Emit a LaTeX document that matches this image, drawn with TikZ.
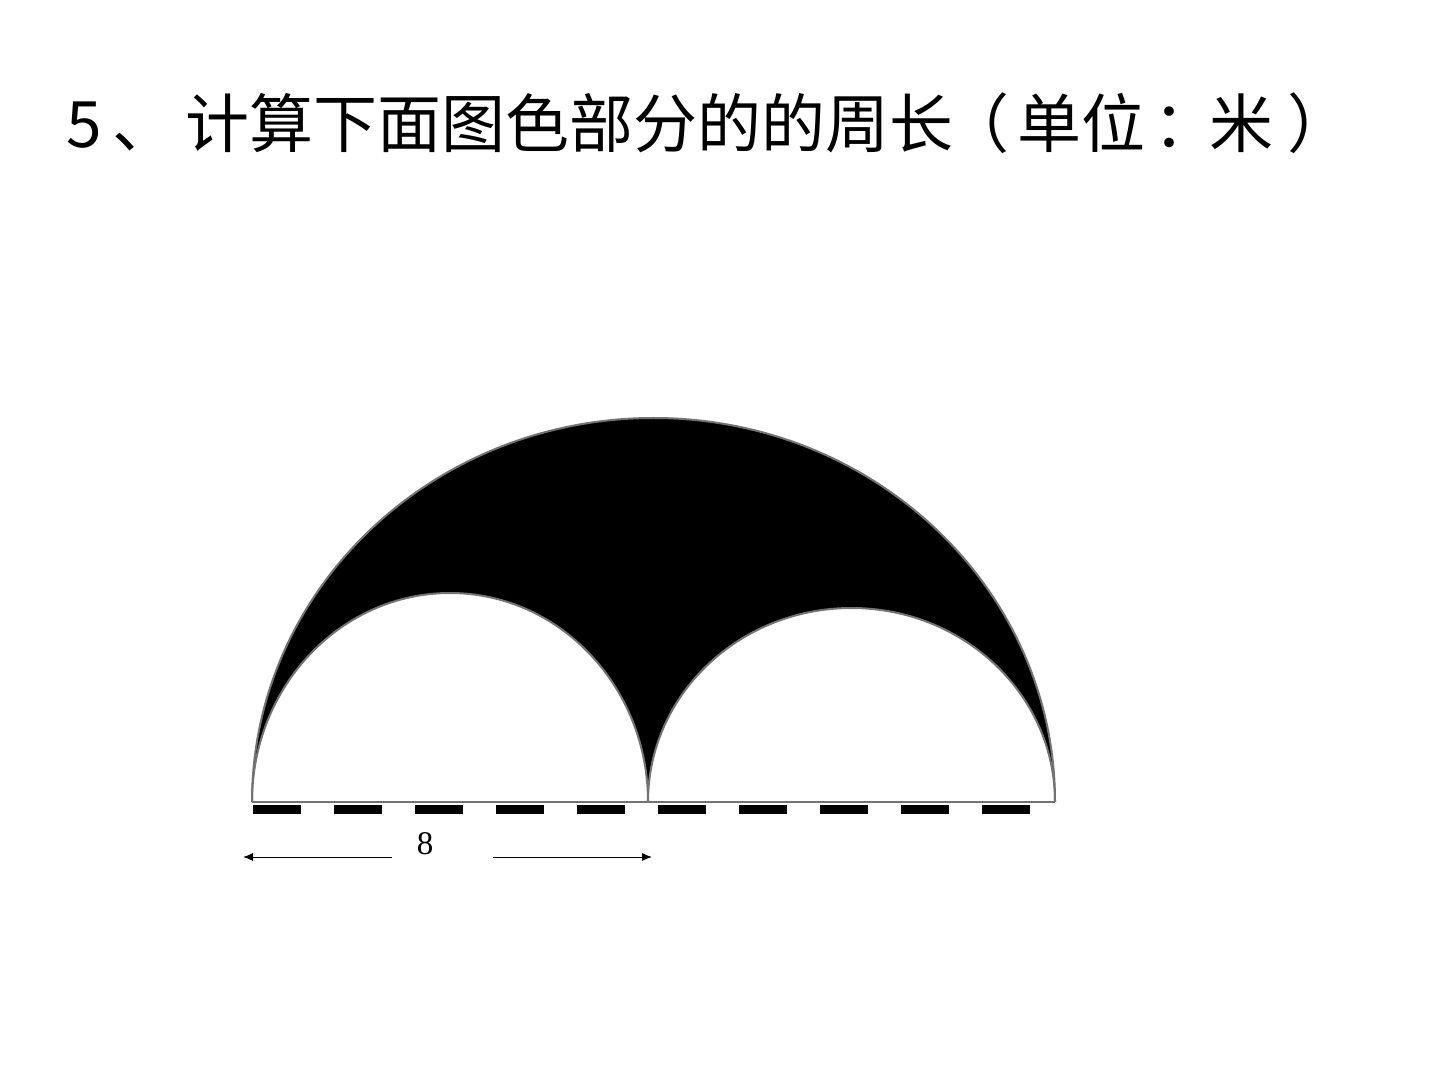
\documentclass[tikz,border=0pt]{standalone}
\usepackage{fontspec}
\setmainfont{Liberation Serif}
\newfontfamily\cjk{Noto Sans CJK SC}
\usetikzlibrary{arrows.meta}
\tikzset{
  outline/.style={draw=black!55, line width=2pt},
  baseline/.style={draw=black!55, line width=2pt},
  dashline/.style={draw=black, line width=9pt, dash pattern=on 48pt off 33pt},
  dimarrow/.style={draw=black, line width=1pt, -{Latex[length=10pt,width=8pt]}},
  title/.style={font=\cjk\fontsize{64}{70}\selectfont, inner sep=0pt, anchor=base west},
}
\begin{document}
\begin{tikzpicture}[x=1pt,y=1pt]
\useasboundingbox (0,0) rectangle (1440,1080);
% title
\node[title] (t5) at (66,932) {5};
\node[title] (tdun) at (112,932) {、};
\node[title] (tmain) at (185,932) {计算下面图色部分的的周长};
\node[title] (tlp) at (945,932) {（};
\node[title] (tunit) at (1017,932) {单位};
\node[title] (tcolon) at (1153,932) {：};
\node[title] (tmi) at (1209,932) {米};
\node[title] (trp) at (1287,932) {）};
% shaded region
\fill[black] (252,278) arc[start angle=180, end angle=0, x radius=401.5, y radius=384]
  arc[start angle=0, end angle=180, x radius=203.5, y radius=194]
  arc[start angle=0, end angle=180, x radius=198, y radius=209] -- cycle;
\draw[outline] (252,278) arc[start angle=180, end angle=0, x radius=401.5, y radius=384];
\draw[outline] (648,278) arc[start angle=0, end angle=180, x radius=198, y radius=209];
\draw[outline] (1055,278) arc[start angle=0, end angle=180, x radius=203.5, y radius=194];
% base
\coordinate (bl) at (252,278);
\coordinate (br) at (1055,278);
\draw[baseline] (bl) -- (br);
\coordinate (dl) at (253,271);
\coordinate (dr) at (1030,271);
\draw[dashline] (dl) -- (dr);
% dimension
\node[font=\fontsize{33}{36}\selectfont, inner sep=0pt] (lab) at (425,236) {8};
\coordinate (a1s) at (392,223);
\coordinate (a1e) at (243,223);
\coordinate (a2s) at (493,223);
\coordinate (a2e) at (652,223);
\draw[dimarrow] (a1s) -- (a1e);
\draw[dimarrow] (a2s) -- (a2e);
\end{tikzpicture}
\end{document}
